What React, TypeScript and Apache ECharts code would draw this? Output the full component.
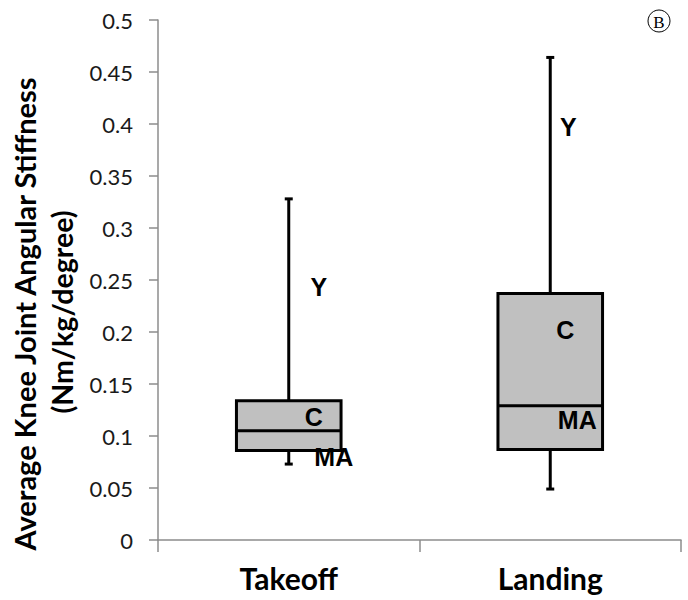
import React, { useEffect, useRef } from "react";
import * as echarts from "echarts";

const categories = ["Takeoff", "Landing"];
// [min, Q1, median, Q3, max]
const takeoffBox = [0.073, 0.086, 0.105, 0.134, 0.328];
const landingBox = [0.049, 0.087, 0.129, 0.237, 0.464];
const yTicks = { min: 0, max: 0.5, interval: 0.05 };

// group annotations (text, category index, y value)
const annotationTexts = ["Y", "C", "MA", "Y", "C", "MA"];
const annotationCats = [0, 0, 0, 1, 1, 1];
const annotationValues = [0.243, 0.118, 0.08, 0.397, 0.202, 0.115];

const titleLine1 = "Average Knee Joint Angular Stiffness";
const titleLine2 = "(Nm/kg/degree)";
const panelLetter = "B";

const annotationOffsets = [30, 25, 45, 18, 15, 27];

export default function App() {
  const ref = useRef<HTMLDivElement>(null);
  useEffect(() => {
    document.body.style.margin = "0";
    const chart = echarts.init(ref.current!, null, { renderer: "svg" });
    const boxData = [takeoffBox, landingBox].map((b, i) => [i, ...b]);
    const annData = annotationTexts.map((t, i) => [annotationCats[i], annotationValues[i], t, i]);
    chart.setOption({
      animation: false,
      grid: { left: 158, right: 7, top: 20, bottom: 60, containLabel: false },
      xAxis: {
        type: "category",
        data: categories,
        boundaryGap: true,
        axisLine: { lineStyle: { color: "#8c8c8c", width: 1.5 } },
        axisTick: { show: true, length: 12, lineStyle: { color: "#8c8c8c", width: 1.5 } },
        axisLabel: {
          margin: 23,
          fontFamily: "Lato",
          fontWeight: "bold",
          fontSize: 30,
          color: "#000",
        },
      },
      yAxis: {
        type: "value",
        min: yTicks.min,
        max: yTicks.max,
        interval: yTicks.interval,
        splitLine: { show: false },
        axisLine: { show: true, lineStyle: { color: "#8c8c8c", width: 1.5 } },
        axisTick: { show: true, length: 9, lineStyle: { color: "#8c8c8c", width: 1.5 } },
        axisLabel: {
          margin: 25,
          fontFamily: "Lato",
          fontSize: 22,
          color: "#1a1a1a",
          formatter: (v: number) => String(parseFloat(v.toFixed(2))),
        },
      },
      graphic: [
        {
          type: "text",
          x: 24,
          y: 314,
          rotation: Math.PI / 2,
          style: {
            text: titleLine1,
            font: "bold 29px Lato",
            fill: "#000",
            align: "center",
            verticalAlign: "middle",
          },
        },
        {
          type: "text",
          x: 62,
          y: 312,
          rotation: Math.PI / 2,
          style: {
            text: titleLine2,
            font: "bold 28.5px Lato",
            fill: "#000",
            align: "center",
            verticalAlign: "middle",
          },
        },
        {
          type: "circle",
          shape: { cx: 659, cy: 21, r: 11 },
          style: { fill: "none", stroke: "#000", lineWidth: 1 },
        },
        {
          type: "text",
          x: 659,
          y: 22,
          style: {
            text: panelLetter,
            font: "17px 'Liberation Serif'",
            fill: "#000",
            align: "center",
            verticalAlign: "middle",
          },
        },
      ],
      series: [
        {
          type: "custom",
          data: boxData,
          encode: { x: 0, y: [1, 2, 3, 4, 5] },
          renderItem: (params: any, api: any) => {
            const c = api.value(0);
            const band = api.size([1, 0])[0];
            const half = band * 0.2;
            const capHalf = 4;
            const pMin = api.coord([c, api.value(1)]);
            const pQ1 = api.coord([c, api.value(2)]);
            const pMed = api.coord([c, api.value(3)]);
            const pQ3 = api.coord([c, api.value(4)]);
            const pMax = api.coord([c, api.value(5)]);
            const x = pMin[0];
            const stroke = { stroke: "#000", lineWidth: 3 };
            return {
              type: "group",
              children: [
                { type: "line", shape: { x1: x, y1: pQ3[1], x2: x, y2: pMax[1] }, style: stroke },
                { type: "line", shape: { x1: x, y1: pQ1[1], x2: x, y2: pMin[1] }, style: stroke },
                { type: "line", shape: { x1: x - capHalf, y1: pMax[1], x2: x + capHalf, y2: pMax[1] }, style: stroke },
                { type: "line", shape: { x1: x - capHalf, y1: pMin[1], x2: x + capHalf, y2: pMin[1] }, style: stroke },
                {
                  type: "rect",
                  shape: { x: x - half, y: pQ3[1], width: half * 2, height: pQ1[1] - pQ3[1] },
                  style: { fill: "#c0c0c0", stroke: "#000", lineWidth: 3 },
                },
                { type: "line", shape: { x1: x - half, y1: pMed[1], x2: x + half, y2: pMed[1] }, style: stroke },
              ],
            };
          },
        },
        {
          type: "custom",
          data: annData,
          z: 10,
          encode: { x: 0, y: 1 },
          renderItem: (params: any, api: any) => {
            const p = api.coord([api.value(0), api.value(1)]);
            const idx = params.dataIndex;
            return {
              type: "text",
              x: p[0] + annotationOffsets[idx],
              y: p[1],
              style: {
                text: annotationTexts[idx],
                font: "bold 25px 'Liberation Sans', Arial",
                fill: "#000",
                align: "center",
                verticalAlign: "middle",
              },
            };
          },
        },
      ],
    });
    return () => chart.dispose();
  }, []);
  return <div ref={ref} style={{ width: 688, height: 600 }} />;
}
